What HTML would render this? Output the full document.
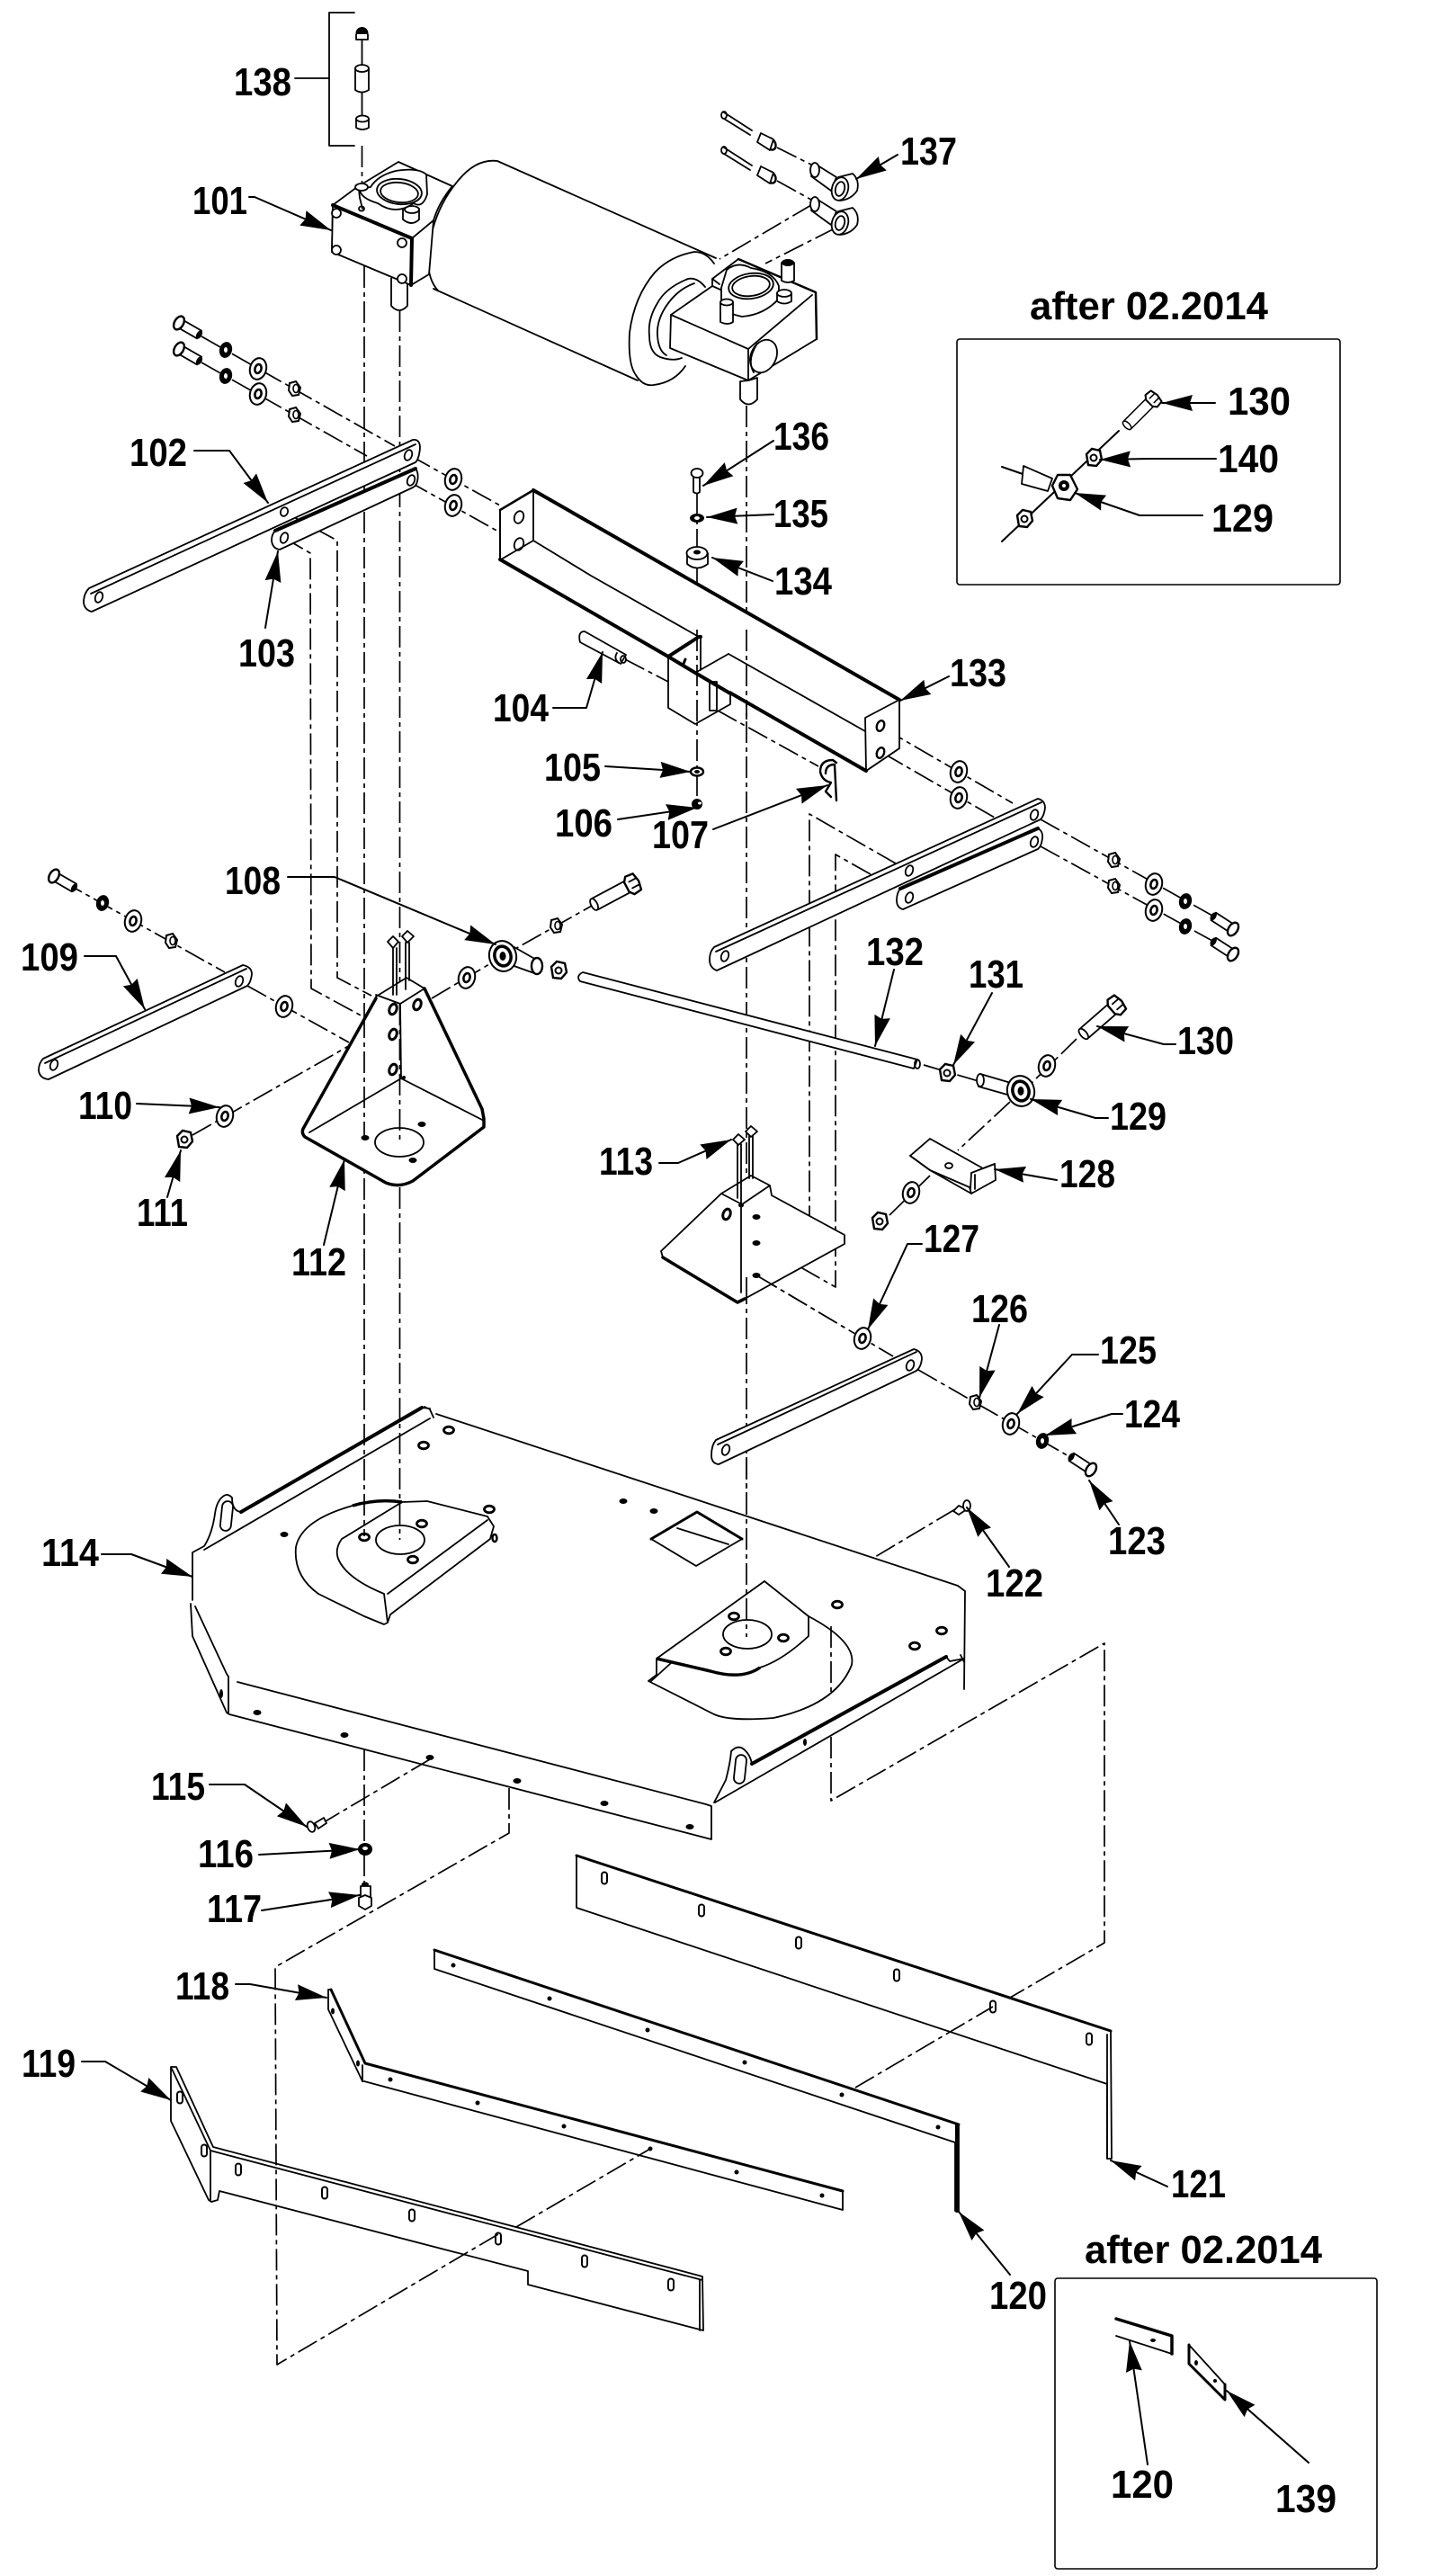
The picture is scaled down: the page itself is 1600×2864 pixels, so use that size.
<!DOCTYPE html>
<html><head><meta charset="utf-8"><title>Parts diagram</title>
<style>
html,body{margin:0;padding:0;background:#fff}
svg{display:block}
.n,.k,.d,.a{fill:none;stroke:#000;stroke-linejoin:round;stroke-linecap:round}
.n{stroke-width:1.8}
.f{fill:#fff;stroke:#000;stroke-width:1.8;stroke-linejoin:round}
.fk{fill:#fff;stroke:#000;stroke-width:2.4;stroke-linejoin:round}
.k{stroke-width:4}
.d{stroke-width:1.7;stroke-dasharray:24 5 5 5;stroke-linecap:butt}
.a{stroke-width:2;marker-end:url(#h)}
.b{fill:#000}
text{font-family:"Liberation Sans",sans-serif;font-weight:bold;font-size:44px;fill:#000}
</style></head><body>
<svg width="1600" height="2864" viewBox="0 0 1600 2864">
<defs>
<marker id="h" markerUnits="userSpaceOnUse" markerWidth="36" markerHeight="22" refX="34" refY="11" orient="auto"><path d="M0,2 L34,11 L0,20 L3,11 Z" fill="#000"/></marker>
<g id="w"><ellipse rx="9" ry="12" transform="rotate(15)" fill="#fff" stroke="#000" stroke-width="2"/><ellipse rx="3.5" ry="5" transform="rotate(15)" fill="#fff" stroke="#000" stroke-width="2.6"/></g>
<g id="l"><ellipse rx="7" ry="9" transform="rotate(15)" fill="#000"/><ellipse rx="2" ry="3" fill="#fff"/></g>
<g id="s"><path d="M-5,-6 L2,-8 L7,-1 L5,7 L-2,8 L-6,2 Z" fill="#fff" stroke="#000" stroke-width="2"/><ellipse cx="2" cy="0" rx="3" ry="4.5" fill="#fff" stroke="#000" stroke-width="1.6"/></g>
<g id="bo"><rect x="2" y="-5" width="24" height="10" class="f"/><ellipse cx="26" rx="3" ry="5" fill="#000"/><ellipse rx="5" ry="8" class="fk"/></g>
<g id="B"><rect x="2" y="-7" width="46" height="14" rx="2" class="f"/><ellipse cx="48" rx="3.5" ry="7" class="f"/><path d="M-6,-10 L3,-11 L7,-6 L7,6 L3,11 L-6,10 L-8,0 Z" class="fk"/><path d="M-6,-4 L2,-4 M-6,4 L2,4" class="n"/></g>
<g id="nut"><path d="M-8,-4 L-2,-10 L7,-8 L9,2 L3,9 L-6,8 Z" fill="#fff" stroke="#000" stroke-width="2.4"/><circle r="3.5" fill="#fff" stroke="#000" stroke-width="2"/></g>
<g id="jo"><ellipse rx="15" ry="17" transform="rotate(-15)" fill="#fff" stroke="#000" stroke-width="2"/><ellipse rx="9" ry="11" transform="rotate(-15)" fill="#fff" stroke="#000" stroke-width="3.5"/><ellipse rx="3.5" ry="5" fill="#000"/></g>
<g id="ho"><ellipse rx="4" ry="6" transform="rotate(20)" fill="#fff" stroke="#000" stroke-width="3"/></g>
<g id="hd"><ellipse rx="5.5" ry="3.8" fill="#fff" stroke="#000" stroke-width="2.8"/></g>
<g id="hb"><ellipse rx="4.5" ry="3" fill="#000"/></g>
<g id="sl"><rect x="-3" y="-6.5" width="6" height="13" rx="3" fill="#fff" stroke="#000" stroke-width="2"/></g>
</defs>

<!-- DECK 114 -->
<path class="f" d="M214,1726 L227,1719 L239,1683 L249,1663 L258,1665 L268,1681 L469,1565 L478,1567 L482,1576 L485,1572 L1065,1763 L1073,1769 L1072,1844 L1052,1842 L836,1961 L826,1944 L813,1947 L807,1979 L794,2004 L791,2008 L791,2045 L255,1906 L214,1819 L212,1783 L214,1779 Z" style="stroke:none"/>
<path class="n" d="M485,1572 L1065,1763 L1073,1769 L1072,1878 M1068,1840 L1072,1848"/>
<path class="k" d="M469,1565 L268,1681"/>
<path class="n" d="M472,1564 L478,1567 L482,1576 M469,1565 L478,1566 M268,1681 Q258,1680 258,1665 Q253,1660 249,1663 Q241,1668 239,1683 Q236,1705 227,1719 L214,1726 L214,1779 M227,1723 L478,1577"/>
<rect x="246" y="1669" width="12" height="33" rx="6" class="n" transform="rotate(6 252 1685)"/>
<path class="n" d="M212,1783 L214,1819 L252,1904 L255,1906 M217,1786 L252,1861 L254,1864 L254,1904 M264,1870 L785,2006 L791,2008 L791,2045 L255,1906"/>
<path class="k" d="M836,1961 L1052,1842"/>
<path class="n" d="M1052,1842 L1056,1847 L1072,1844 M795,2004 L1072,1844 M794,2004 Q804,1985 807,1979 Q812,1960 813,1947 Q820,1940 826,1944 Q834,1950 836,1961"/>
<rect x="817" y="1951" width="12" height="32" rx="6" class="n" transform="rotate(6 823 1967)"/>
<use href="#hb" x="286" y="1904"/><use href="#hb" x="383" y="1929"/><use href="#hb" x="478" y="1954"/><use href="#hb" x="575" y="1980"/><use href="#hb" x="672" y="2005"/><use href="#hb" x="767" y="2031"/>
<ellipse cx="246" cy="1883" rx="2" ry="5" class="b"/><ellipse cx="895" cy="1937" rx="2" ry="4" class="b"/>
<use href="#hd" x="499" y="1590"/><use href="#hd" x="471" y="1607"/><use href="#hb" x="316" y="1706"/><use href="#hb" x="693" y="1669"/><use href="#hb" x="727" y="1680"/><use href="#hd" x="544" y="1678"/><use href="#hd" x="931" y="1784"/><use href="#hd" x="1047" y="1813"/><use href="#hd" x="1017" y="1830"/>
<!-- left pad -->
<path class="n" d="M405,1797 Q370,1780 354,1772 Q326,1752 329,1720 Q335,1690 392,1674"/>
<path style="fill:none;stroke:#000;stroke-width:3.5" d="M392,1674 Q420,1666 447,1670"/>
<path class="n" d="M447,1670 L475,1669 L542,1686 L549,1697 L545,1711 L434,1795 L431,1804 L427,1806 L405,1797 M447,1670 L380,1711 Q372,1722 376,1733 Q385,1755 427,1772 L431,1804 M431,1772 L542,1690"/>
<ellipse cx="445" cy="1712" rx="27" ry="16" class="n"/>
<use href="#hd" x="469" y="1694"/><use href="#hd" x="405" y="1709"/><use href="#hd" x="459" y="1734"/><ellipse cx="550" cy="1710" rx="2.5" ry="4" class="fk"/>
<!-- right pad -->
<path class="n" d="M850,1758 L730,1844 L730,1862 L721,1869 L794,1906 Q812,1914 860,1910 Q930,1895 947,1851 Q952,1825 899,1797"/>
<path class="n" d="M850,1758 L899,1797 L899,1819 Q870,1846 845,1854 M746,1849 L724,1869"/>
<path style="fill:none;stroke:#000;stroke-width:3.5" d="M730,1844 L790,1858 Q825,1868 845,1854"/>
<ellipse cx="831" cy="1817" rx="27" ry="16" class="n"/>
<use href="#hd" x="816" y="1797"/><use href="#hd" x="871" y="1821"/><use href="#hd" x="807" y="1836"/>
<!-- notch -->
<path class="n" d="M775,1681 L825,1711 L774,1741 L724,1711 M753,1699 L810,1717"/>
<path class="k" style="stroke-width:3" d="M724,1711 L775,1681 L825,1711"/>

<!-- long center lines -->
<path class="d" d="M402.5,162 L402.5,216"/>
<path class="d" d="M405,296 L405,1708"/>
<path class="d" d="M444.5,345 L444.5,1712"/>
<path class="d" d="M830,451 L830,1820"/>
<path class="d" d="M775,549 L775,895"/>
<path class="d" d="M405,1945 L405,2095"/>
<path class="d" d="M924,1808 L924,1883 M924,1931 L924,2002 L1228,1827 L1228,2160 L1123,2221"/>
<path class="d" d="M1062,1678 L973,1731"/>
<path class="d" d="M478,1956 L360,2026"/>
<!-- bracket wires -->
<path class="d" d="M316,569 L375,601 L375,1087 L413,1107"/>
<path class="d" d="M316,598 L345,615 L346,1099 L403,1130"/>
<path class="d" d="M996,960 L900,905 L900,1386 L842,1353"/>
<path class="d" d="M968,972 L929,950 L929,1431 L843,1382"/>
<path class="d" d="M843,1419 L993,1508"/>
<!-- fasteners lines upper left -->
<path class="d" d="M224,374 L439,496 M224,403 L408,507 M457,507 L556,562 M454,535 L556,592"/>
<path class="d" d="M983,810 L1126,893 M983,838 L1106,909 M1157,911 L1348,1018 M1157,941 L1348,1046"/>
<path class="d" d="M70,980 L250,1081 M275,1096 L388,1159"/>
<path class="d" d="M214,1262 L449,1128 M480,1110 L571,1056 L658,1007"/>
<path class="d" d="M1027,1184 L1088,1202 M1197,1155 L1146,1205 M1123,1225 L1065,1279 M1034,1307 L988,1352"/>
<path class="d" d="M1021,1523 L1190,1620"/>
<path class="d" d="M864,164 L902,183 M864,201 L902,222 M902,228 L800,288 M928,254 L851,293"/>
<path class="d" d="M695,733 L743,758 M798,790 L910,852"/>
<path class="n" d="M402.5,45 L402.5,130"/>

<!-- 138 bracket -->
<path class="n" d="M394,14 L366,14 L366,162 L394,162 M328,87 L366,87"/>
<ellipse cx="402.5" cy="37" rx="7" ry="7" fill="#000"/><path class="f" d="M396,38 L396,44 L409,44 L409,38"/>
<path class="f" d="M395,76 L395,100 Q402,105 410,100 L410,76 Z"/><ellipse cx="402.5" cy="76" rx="7.5" ry="4" class="f"/>
<path class="f" d="M396,132 L396,142 Q403,146 410,142 L410,132 Z"/><ellipse cx="403" cy="132" rx="7" ry="3.5" class="f"/>

<!-- motor -->
<path class="f" d="M553,179 L800,288 L800,400 L712,422 L482,321 Q470,290 480,250 Q495,200 530,182 Q542,176 553,179 Z" style="stroke:none"/>
<path class="n" d="M553,179 L796,287 M482,321 L709,423 M553,179 Q530,176 510,200 Q480,235 476,285 Q475,310 487,323"/>
<!-- flange -->
<path class="f" d="M794,293 Q785,280 772,280 Q745,285 728,303 Q705,330 700,370 Q698,405 707,417 Q715,430 727,428 Q750,425 772,400 L800,340 Z" style="stroke:none"/>
<path class="n" d="M794,293 Q785,280 772,280 Q745,285 728,303 Q705,330 700,370 Q698,405 707,417 Q715,430 727,428 Q750,425 762,407"/>
<path class="n" d="M784,319 Q775,308 765,310 Q740,320 731,337 Q720,355 722,373 Q722,392 734,397 Q748,402 758,398"/>
<path class="n" d="M772,315 Q752,322 739,343 Q730,358 731,373 Q732,390 741,395"/>
<!-- right gearbox -->
<path class="f" d="M746,350 L792,318 L792,310 L821,288 L907,325 L908,377 L832,423 L745,387 Z"/>
<path class="n" d="M746,350 L832,388 L832,423 M832,388 L903,328 M792,310 L800,316 M792,318 L810,326"/>
<path class="k" style="stroke-width:2.5" d="M821,288 L907,325 L908,377"/>
<path class="f" d="M808,300 Q820,290 835,298 Q860,302 866,318 L866,332 Q850,350 825,352 Q806,348 802,340 L802,320 Z"/>
<ellipse cx="835" cy="318" rx="25" ry="14" transform="rotate(-8 835 318)" class="f"/>
<ellipse cx="835" cy="318" rx="21" ry="11" transform="rotate(-8 835 318)" class="n"/>
<path class="f" d="M801,336 L801,358 Q809,362 815,358 L815,336 Z"/><ellipse cx="808" cy="336" rx="7" ry="3.5" class="f"/>
<path class="f" d="M864,326 L864,335 Q872,340 880,335 L880,326 Z"/><ellipse cx="872" cy="326" rx="8" ry="4" class="f"/>
<path class="f" d="M869,292 L869,312 Q876,316 883,312 L883,292 Z"/><ellipse cx="876" cy="292" rx="7" ry="4" fill="#000"/>
<ellipse cx="849" cy="396" rx="14" ry="19" transform="rotate(25 849 396)" class="f"/>
<path class="n" d="M838,414 Q830,400 842,382"/>
<path class="f" d="M823,424 L823,444 Q832,455 842,444 L842,420 L832,423 Z"/>

<!-- left gearbox -->
<path class="f" d="M370,228 L397,208 L443,180 L503,207 Q488,225 482,245 L477,305 L457,317 L369,280 Z"/>
<path class="f" d="M435,309 L435,340 Q444,350 453,340 L453,315"/>
<path class="n" d="M458,265 L482,245"/>
<path class="f" d="M412,208 Q420,195 440,190 Q465,186 474,194 L475,216 Q470,232 460,226 Q440,240 420,226 Q400,220 400,210 Z"/>
<ellipse cx="444" cy="213" rx="25" ry="14" transform="rotate(6 444 213)" class="f"/>
<ellipse cx="444" cy="214" rx="21" ry="11" transform="rotate(6 444 214)" class="n"/>
<path class="n" d="M399,210 L400,220 L403,232"/>
<ellipse cx="402" cy="208" rx="7" ry="4" class="f"/>
<ellipse cx="402" cy="232" rx="3" ry="2.5" class="n"/>
<path class="f" d="M448,232 L448,244 Q458,252 466,244 L466,232 Z"/><ellipse cx="458" cy="233" rx="8" ry="4" class="f"/>
<path class="f" d="M370,228 L458,265 L457,317 L369,280 Z"/>
<path class="k" style="stroke-width:4" d="M370,228 L458,265 L457,317"/>
<circle cx="374" cy="237" r="5" class="f" stroke-width="2.4"/><circle cx="374" cy="278" r="5" class="f"/><circle cx="447" cy="270" r="5" class="f"/><circle cx="447" cy="310" r="5" class="f"/>

<!-- 137 pins -->
<g>
<path class="n" d="M805,125 L836,145 M805,132 L834,150 M805,164 L836,184 M805,171 L834,189"/>
<ellipse cx="805" cy="128" rx="3" ry="4" class="n"/><ellipse cx="805" cy="167" rx="3" ry="4" class="n"/>
<ellipse cx="857" cy="160" rx="5" ry="7" transform="rotate(-30 857 160)" class="fk"/><path class="f" d="M846,148 L860,155 L856,167 L842,158 Z"/>
<ellipse cx="857" cy="197" rx="5" ry="7" transform="rotate(-30 857 197)" class="fk"/><path class="f" d="M846,185 L860,192 L856,204 L842,195 Z"/>
<path class="f" d="M906,182 L930,197 L924,212 L902,196 Z"/><ellipse cx="906" cy="189" rx="5" ry="8" class="f"/>
<path class="f" d="M906,220 L930,235 L924,250 L902,234 Z"/><ellipse cx="906" cy="227" rx="5" ry="8" class="f"/>
<path class="f" d="M932,197 L948,193 Q956,200 953,212 Q946,222 934,223 Z"/><ellipse cx="934" cy="210" rx="9" ry="13" transform="rotate(15 934 210)" class="f"/><ellipse cx="934" cy="210" rx="5" ry="8" transform="rotate(15 934 210)" class="n"/>
<path class="f" d="M932,235 L948,231 Q956,238 953,250 Q946,260 934,261 Z"/><ellipse cx="934" cy="248" rx="9" ry="13" transform="rotate(15 934 248)" class="f"/><ellipse cx="934" cy="248" rx="5" ry="8" transform="rotate(15 934 248)" class="n"/>
</g>

<!-- bolts & washers upper-left -->
<use href="#bo" transform="translate(199,359) rotate(30)"/><use href="#bo" transform="translate(199,388) rotate(30)"/>
<use href="#l" x="251" y="389"/><use href="#l" x="251" y="418"/>
<use href="#w" x="287" y="410"/><use href="#w" x="287" y="438"/>
<use href="#s" x="327" y="432"/><use href="#s" x="327" y="461"/>
<use href="#w" x="504" y="533"/><use href="#w" x="504" y="562"/>

<!-- bars 102, 103 -->
<path class="f" d="M459,489 Q467,488 467,498 Q466,510 462,514 L102,680 Q94,678 93,670 Q93,660 99,654 Z"/>
<path class="n" d="M101,660 L462,494"/>
<ellipse cx="454" cy="506" rx="4" ry="6" transform="rotate(20 454 506)" class="n"/><ellipse cx="110" cy="664" rx="4" ry="6" transform="rotate(20 110 664)" class="n"/>
<path class="f" d="M462,521 Q466,526 464,535 Q463,540 459,542 L311,611 Q303,610 302,601 Q302,594 306,590 Z"/>
<path class="k" d="M306,590 L462,521"/>
<ellipse cx="457" cy="534" rx="4" ry="6" transform="rotate(20 457 534)" class="n"/><ellipse cx="316" cy="598" rx="4" ry="6" transform="rotate(20 316 598)" class="n"/>
<ellipse cx="316" cy="569" rx="4" ry="5" transform="rotate(20 316 569)" class="n"/>

<!-- tube 133 -->
<path class="f" d="M556,567 L593,545 L1000,778 L1000,832 L963,857 L773,748 L743,730 L556,622 Z"/>
<path class="n" d="M593,545 L593,601 L557,622 M593,601 L657,640 L777,708"/>
<path class="k" d="M556,622 L743,730 M593,545 L1000,778 M773,748 L963,857"/>
<path class="k" style="stroke-width:2.5" d="M556,567 L593,545"/>
<path class="n" d="M556,567 L556,622"/>
<ellipse cx="577" cy="575" rx="5" ry="7" transform="rotate(20 577 575)" class="n"/><ellipse cx="577" cy="605" rx="5" ry="7" transform="rotate(20 577 605)" class="n"/>
<path class="f" d="M962,798 L1000,778 L1000,832 L963,857 Z"/>
<ellipse cx="979" cy="807" rx="4" ry="6" transform="rotate(20 979 807)" class="fk"/><ellipse cx="979" cy="837" rx="4" ry="6" transform="rotate(20 979 837)" class="fk"/>
<path class="n" d="M810,727 L962,813"/>
<!-- center bracket -->
<path class="f" d="M743,732 L777,708 L779,745 L810,727 L812,772 L812,783 L773,805 L743,787 Z" style="stroke:none"/>
<path class="n" d="M743,732 L743,787 L773,805 L812,783 Q812,775 812,772 M773,748 L810,727 M779,708 L779,745"/>
<path class="k" d="M743,730 L777,708 L779,708 M743,730 L773,748 L812,771"/>
<rect x="789" y="758" width="8" height="32" class="n"/>
<path class="k" style="stroke-width:3" d="M760,738 L762,733"/>
<path class="d" d="M775,700 L775,805"/>
<path class="d" d="M830,700 L830,800"/>
<!-- pin 104 -->
<path class="f" d="M650,702 L696,728 L690,738 L645,714 Q642,702 650,702 Z"/>
<path class="n" d="M686,726 Q682,732 688,737"/>
<ellipse cx="693" cy="733" rx="3" ry="4" class="n"/>
<ellipse cx="775" cy="858" rx="7" ry="4.5" class="fk"/><ellipse cx="775" cy="858" rx="3" ry="2" class="b"/>
<circle cx="775" cy="894" r="6" fill="#000"/><ellipse cx="778" cy="893" rx="2" ry="1.5" fill="#fff"/>
<!-- clip 107 -->
<path class="n" style="stroke-width:2.4" d="M926,845 Q912,845 912,858 Q914,868 924,870 L918,880 L924,886 M918,860 Q918,850 928,850 L930,890 M926,845 L930,848"/>
<!-- top small part 136,135,134 -->
<path class="f" d="M771,530 L771,547 Q775,550 778,547 L778,530 Z"/><ellipse cx="775" cy="526" rx="6.5" ry="5" class="f"/>
<ellipse cx="775" cy="576" rx="8" ry="5" fill="#000"/><ellipse cx="775" cy="576" rx="3" ry="2" fill="#fff"/>
<path class="f" d="M764,615 L764,627 Q775,636 787,627 L787,615 Z"/><ellipse cx="775" cy="615" rx="11.5" ry="7" class="f"/><ellipse cx="775" cy="614" rx="4" ry="2.5" class="b"/>

<!-- right bars -->
<path class="f" d="M1154,888 Q1162,890 1162,898 Q1161,907 1157,911 L797,1079 Q789,1076 789,1067 Q789,1058 794,1053 Z"/>
<path class="n" d="M796,1058 L1158,892"/>
<ellipse cx="1150" cy="906" rx="4" ry="6" transform="rotate(20 1150 906)" class="n"/><ellipse cx="806" cy="1063" rx="4" ry="6" transform="rotate(20 806 1063)" class="n"/><ellipse cx="1011" cy="968" rx="4" ry="6" transform="rotate(20 1011 968)" class="n"/>
<path class="f" d="M1154,921 Q1160,924 1159,932 Q1158,941 1154,944 L1004,1011 Q997,1009 997,1001 Q997,993 1001,988 Z"/>
<path class="k" d="M1001,988 L1154,921"/>
<ellipse cx="1150" cy="936" rx="4" ry="6" transform="rotate(20 1150 936)" class="n"/><ellipse cx="1011" cy="998" rx="4" ry="6" transform="rotate(20 1011 998)" class="n"/>
<use href="#w" x="1066" y="858"/><use href="#w" x="1066" y="887"/>
<use href="#s" x="1238" y="956"/><use href="#s" x="1238" y="985"/>
<use href="#w" x="1283" y="983"/><use href="#w" x="1283" y="1012"/>
<use href="#l" x="1318" y="1002"/><use href="#l" x="1318" y="1030"/>
<use href="#bo" transform="translate(1371,1033) rotate(213)"/><use href="#bo" transform="translate(1371,1061) rotate(213)"/>

<!-- left group 109 -->
<use href="#bo" transform="translate(60,974) rotate(30)"/>
<use href="#l" x="114" y="1004"/><use href="#w" x="148" y="1024"/><use href="#s" x="190" y="1046"/>
<path class="f" d="M270,1073 Q280,1075 280,1083 Q279,1092 275,1096 L54,1200 Q44,1199 43,1190 Q43,1182 48,1177 Z"/>
<path class="n" d="M50,1182 L274,1077"/>
<ellipse cx="266" cy="1091" rx="4" ry="6" transform="rotate(20 266 1091)" class="n"/><ellipse cx="60" cy="1184" rx="4" ry="6" transform="rotate(20 60 1184)" class="n"/>
<use href="#w" x="316" y="1119"/><use href="#w" x="250" y="1241"/><use href="#nut" x="205" y="1267"/>

<!-- bracket 112 -->
<path class="f" d="M418,1106 L452,1087 L472,1099 L536,1233 L538,1253 L459,1313 Q444,1320 429,1315 L339,1264 Q335,1258 337,1255 Z" style="stroke:none"/>
<path class="n" d="M418,1108 L452,1087 L472,1099 L445,1116 L418,1106 M445,1116 L446,1199 L344,1259 M446,1199 L538,1246"/>
<path class="n" style="stroke-width:3.5" d="M418,1110 L337,1255 Q335,1260 339,1264 L429,1315 Q444,1321 459,1313 L538,1253 L538,1244 L536,1233 L472,1099"/>
<ellipse cx="444" cy="1270" rx="27" ry="16" class="n"/>
<use href="#hb" x="406" y="1265"/><use href="#hb" x="469" y="1250"/><use href="#hb" x="459" y="1290"/>
<use href="#ho" x="437" y="1122"/><use href="#ho" x="437" y="1150"/><use href="#ho" x="437" y="1189"/><use href="#ho" x="464" y="1117"/>
<path class="n" d="M437,1054 L437,1106 M441,1054 L441,1106 M451,1048 L451,1100 M455,1048 L455,1090"/>
<path class="f" d="M431,1047 L437,1041 L443,1047 L437,1054 Z"/><path class="f" d="M447,1041 L453,1035 L460,1041 L453,1048 Z"/>
<path class="d" d="M405,1130 L405,1265 M444.5,1116 L444.5,1270"/>
<circle cx="449" cy="1198" r="2" class="b"/>

<!-- rod and joints -->
<path class="f" d="M648,1081 L1020,1178 L1016,1188 L645,1091 Q640,1085 648,1081 Z"/>
<ellipse cx="1020" cy="1183" rx="3" ry="5" class="n"/>
<path class="f" d="M570,1052 L598,1068 L594,1082 L566,1072 Z"/>
<ellipse cx="597" cy="1074" rx="6" ry="9" class="fk"/>
<use href="#nut" x="621" y="1079"/>
<use href="#jo" x="559" y="1063"/>
<use href="#w" x="519" y="1087"/><use href="#s" x="618" y="1029"/>
<use href="#B" transform="translate(703,983) rotate(152)"/>
<use href="#nut" x="1053" y="1193"/>
<path class="f" d="M1090,1194 L1124,1204 L1120,1217 L1088,1208 Z"/><ellipse cx="1090" cy="1201" rx="4" ry="7" class="f"/>
<use href="#jo" x="1135" y="1213"/>
<use href="#w" x="1164" y="1185"/>
<use href="#B" transform="translate(1241,1118) rotate(139)"/>
<!-- part 128 -->
<path class="f" d="M1012,1285 L1034,1266 L1093,1299 L1106,1294 L1107,1312 L1080,1327 L1034,1301 Z"/>
<path class="n" d="M1012,1285 L1034,1301 L1078,1320 L1080,1327 M1080,1304 L1106,1294 M1080,1304 L1079,1322 M1084,1306 L1084,1322"/>
<ellipse cx="1055" cy="1296" rx="4" ry="3" class="n"/>
<use href="#w" x="1013" y="1326"/><use href="#nut" x="978" y="1358"/>

<!-- bracket 113 -->
<path class="f" d="M802,1327 L835,1307 L856,1318 L858,1329 L939,1373 L939,1383 L828,1444 L820,1448 L737,1398 L735,1391 Z" style="stroke:none"/>
<path class="n" d="M802,1327 L835,1307 L856,1318 L825,1339 L802,1327 L735,1391 L737,1398 M856,1318 L858,1329 L939,1373 L939,1383 L828,1444 M824,1339 L824,1437"/>
<path class="k" style="stroke-width:3.5" d="M737,1398 L820,1448 L828,1444"/>
<use href="#ho" x="808" y="1350"/><use href="#hb" x="841" y="1353"/><use href="#hb" x="841" y="1382"/><use href="#hb" x="841" y="1418"/>
<path class="n" d="M820,1272 L820,1332 M824,1272 L824,1338 M833,1263 L833,1310 M837,1263 L837,1310"/>
<path class="f" d="M815,1267 L821,1261 L828,1267 L821,1273 Z"/><path class="f" d="M829,1258 L835,1252 L842,1258 L835,1264 Z"/>
<path class="d" d="M843,1419 L939,1476"/><path class="d" d="M830,1420 L830,1450"/>
<ellipse cx="824" cy="1340" rx="3" ry="2.5" class="b"/>

<!-- lower bar -->
<use href="#w" x="959" y="1488"/>
<path class="f" d="M1016,1500 Q1025,1502 1025,1511 Q1024,1520 1019,1524 L799,1628 Q791,1627 791,1618 Q791,1607 796,1601 Z"/>
<path class="n" d="M798,1606 L1019,1503"/>
<ellipse cx="1012" cy="1518" rx="4" ry="6" transform="rotate(20 1012 1518)" class="n"/><ellipse cx="807" cy="1612" rx="4" ry="6" transform="rotate(20 807 1612)" class="n"/>
<use href="#s" x="1084" y="1559"/><use href="#w" x="1124" y="1583"/><use href="#l" x="1159" y="1602"/>
<use href="#bo" transform="translate(1213,1634) rotate(213)"/>
<path class="d" d="M830,1620 L830,1660"/>

<!-- bolts near deck -->
<path class="f" d="M1066,1674 L1060,1680 L1066,1684 L1075,1678 Z"/>
<ellipse cx="1075" cy="1674" rx="4" ry="6" class="f"/>
<path class="f" d="M350,2027 L360,2021 L363,2027 L354,2033 Z"/><ellipse cx="346" cy="2031" rx="4" ry="6" transform="rotate(-20 346 2031)" class="f"/>
<ellipse cx="406" cy="2056" rx="8" ry="7" fill="#000"/><ellipse cx="406" cy="2055" rx="3" ry="2" fill="#fff"/>
<path class="f" d="M401,2097 L401,2112 L412,2112 L412,2097 Z"/><ellipse cx="406" cy="2095" rx="4" ry="2.5" fill="#000"/>
<path class="f" d="M399,2110 L399,2119 L406,2123 L413,2119 L413,2110 L406,2107 Z"/>

<!-- 121 -->
<path class="f" d="M641,2063 L1235,2258 L1236,2400 L1231,2400 L1231,2317 L641,2121 Z"/>
<path class="k" style="stroke-width:3" d="M641,2063 L1235,2258"/>
<path class="n" d="M1231,2262 L1231,2400"/>
<use href="#sl" x="672" y="2088"/><use href="#sl" x="780" y="2124"/><use href="#sl" x="888" y="2160"/><use href="#sl" x="997" y="2196"/><use href="#sl" x="1104" y="2231"/><use href="#sl" x="1211" y="2267"/>

<!-- 120 -->
<path class="f" d="M483,2168 L1066,2362 L1066,2458 L1062,2458 L1062,2382 L483,2189 Z"/>
<path class="k" style="stroke-width:3" d="M483,2168 L1066,2362"/>
<path class="k" style="stroke-width:4" d="M1064,2362 L1064,2458"/>
<circle cx="504" cy="2185" r="2.5" class="b"/><circle cx="611" cy="2222" r="2.5" class="b"/><circle cx="720" cy="2257" r="2.5" class="b"/><circle cx="828" cy="2293" r="2.5" class="b"/><circle cx="936" cy="2329" r="2.5" class="b"/><circle cx="1043" cy="2365" r="2.5" class="b"/>
<path class="d" d="M951,2321 L1104,2231"/>

<!-- 118 -->
<path class="f" d="M365,2212 L368,2212 L406,2294 L937,2436 L937,2457 L405,2314 L403,2314 L365,2234 Z"/>
<path class="k" style="stroke-width:3" d="M368,2212 L406,2294 L937,2436"/>
<path class="n" d="M403,2296 L403,2314"/>
<ellipse cx="370" cy="2236" rx="2" ry="3.5" class="b"/><ellipse cx="398" cy="2294" rx="2" ry="3.5" class="b"/>
<circle cx="434" cy="2312" r="2.5" class="b"/><circle cx="531" cy="2338" r="2.5" class="b"/><circle cx="627" cy="2364" r="2.5" class="b"/><circle cx="723" cy="2389" r="2.5" class="b"/><circle cx="819" cy="2415" r="2.5" class="b"/><circle cx="914" cy="2441" r="2.5" class="b"/>

<!-- 119 -->
<path class="f" d="M190,2298 L196,2298 L237,2387 L781,2531 L782,2591 L587,2540 L587,2525 L244,2436 L242,2446 L235,2448 L232,2446 L190,2358 Z"/>
<path class="n" d="M191,2300 L234,2391 L234,2446 M234,2391 L781,2535 M778,2535 L778,2591"/>
<use href="#sl" x="200" y="2332"/><use href="#sl" x="227" y="2391"/>
<use href="#sl" x="265" y="2412"/><use href="#sl" x="361" y="2438"/><use href="#sl" x="458" y="2463"/><use href="#sl" x="554" y="2489"/><use href="#sl" x="650" y="2514"/><use href="#sl" x="746" y="2540"/>
<!-- dash lines crossing the lower parts -->
<path class="d" d="M566,1988 L566,2038 L306,2187 L308,2629 L554,2484"/>
<path class="d" d="M574,2476 L723,2389"/>

<!-- inset boxes -->
<rect x="1064" y="377" width="426" height="273" rx="3" fill="none" stroke="#000" stroke-width="1.6"/>
<rect x="1173" y="2533" width="358" height="323" rx="3" fill="none" stroke="#000" stroke-width="1.6"/>
<path class="n" d="M1244,479 L1114,602" style="stroke-width:2"/>
<use href="#B" transform="translate(1282,444) rotate(135) scale(.85)"/>
<use href="#nut" x="1216" y="509"/>
<path class="n" style="stroke-width:2" d="M1114,519 L1140,528"/>
<path class="f" d="M1138,518 L1170,532 L1165,546 L1136,538 Z"/>
<path d="M1176,528 L1190,528 L1198,544 L1190,556 L1176,554 L1170,540 Z" class="fk"/><circle cx="1183" cy="540" r="6" fill="#000"/><circle cx="1183" cy="540" r="2" fill="#fff"/>
<use href="#nut" x="1139" y="577"/>
<path class="n" style="stroke-width:1.8" d="M1241,2597 L1303,2617"/>
<path class="k" style="stroke-width:3.5" d="M1241,2578 L1303,2597 L1303,2617"/>
<ellipse cx="1282" cy="2602" rx="3" ry="2" class="b"/>
<path class="f" d="M1322,2607 L1362,2651 L1362,2668 L1322,2628 Z"/>
<path class="k" style="stroke-width:3" d="M1322,2607 L1322,2628 L1362,2668 L1362,2651"/>
<ellipse cx="1330" cy="2627" rx="2" ry="3" class="b"/><ellipse cx="1351" cy="2647" rx="2" ry="2" class="b"/>

<!-- callout leaders -->
<path class="a" d="M277,219 L283,219 L368,256"/>
<path class="a" d="M216,501 L255,501 L298,559"/>
<path class="a" d="M295,698 L309,613"/>
<path class="a" d="M615,787 L652,787 L670,725"/>
<path class="a" d="M673,852 L768,858"/>
<path class="a" d="M687,911 L775,898"/>
<path class="a" d="M793,922 L920,873"/>
<path class="a" d="M320,975 L372,975 L551,1050"/>
<path class="a" d="M94,1063 L129,1063 L161,1122"/>
<path class="a" d="M152,1227 L244,1231"/>
<path class="a" d="M186,1331 L201,1279"/>
<path class="a" d="M360,1384 L383,1289"/>
<path class="a" d="M733,1293 L754,1293 L813,1267"/>
<path class="a" d="M113,1728 L146,1728 L214,1753"/>
<path class="a" d="M233,1984 L272,1984 L341,2031"/>
<path class="a" d="M288,2062 L400,2056"/>
<path class="a" d="M291,2124 L400,2107"/>
<path class="a" d="M262,2206 L278,2206 L363,2221"/>
<path class="a" d="M91,2292 L117,2292 L190,2335"/>
<path class="a" d="M1123,2529 L1066,2459"/>
<path class="a" d="M1298,2431 L1235,2402"/>
<path class="a" d="M1122,1742 L1075,1676"/>
<path class="a" d="M1244,1695 L1211,1646"/>
<path class="a" d="M1248,1572 L1236,1572 L1162,1596"/>
<path class="a" d="M1221,1506 L1192,1506 L1131,1572"/>
<path class="a" d="M1111,1473 L1089,1554"/>
<path class="a" d="M1025,1383 L1009,1383 L965,1478"/>
<path class="a" d="M1175,1312 L1106,1300"/>
<path class="a" d="M1232,1243 L1218,1243 L1146,1222"/>
<path class="a" d="M1307,1161 L1294,1161 L1220,1141"/>
<path class="a" d="M1103,1104 L1060,1184"/>
<path class="a" d="M994,1078 L973,1163"/>
<path class="a" d="M1055,752 L1001,779"/>
<path class="a" d="M859,646 L792,620"/>
<path class="a" d="M860,572 L786,575"/>
<path class="a" d="M860,490 L782,540"/>
<path class="a" d="M998,172 L952,199"/>
<path class="a" d="M1351,448 L1292,448"/>
<path class="a" d="M1352,510 L1280,510 L1223,511"/>
<path class="a" d="M1337,573 L1267,573 L1195,548"/>
<path class="a" d="M1276,2740 L1256,2603"/>
<path class="a" d="M1455,2738 L1364,2658"/>

<!-- labels -->
<text x="260" y="106" textLength="64" lengthAdjust="spacingAndGlyphs">138</text>
<text x="214" y="238" textLength="61" lengthAdjust="spacingAndGlyphs">101</text>
<text x="144" y="518" textLength="64" lengthAdjust="spacingAndGlyphs">102</text>
<text x="265" y="741" textLength="63" lengthAdjust="spacingAndGlyphs">103</text>
<text x="548" y="802" textLength="62" lengthAdjust="spacingAndGlyphs">104</text>
<text x="605" y="868" textLength="63" lengthAdjust="spacingAndGlyphs">105</text>
<text x="617" y="930" textLength="64" lengthAdjust="spacingAndGlyphs">106</text>
<text x="725" y="943" textLength="63" lengthAdjust="spacingAndGlyphs">107</text>
<text x="250" y="994" textLength="62" lengthAdjust="spacingAndGlyphs">108</text>
<text x="23" y="1079" textLength="64" lengthAdjust="spacingAndGlyphs">109</text>
<text x="87" y="1244" textLength="60" lengthAdjust="spacingAndGlyphs">110</text>
<text x="152" y="1363" textLength="57" lengthAdjust="spacingAndGlyphs">111</text>
<text x="324" y="1418" textLength="61" lengthAdjust="spacingAndGlyphs">112</text>
<text x="666" y="1306" textLength="60" lengthAdjust="spacingAndGlyphs">113</text>
<text x="46" y="1741" textLength="64" lengthAdjust="spacingAndGlyphs">114</text>
<text x="168" y="2001" textLength="60" lengthAdjust="spacingAndGlyphs">115</text>
<text x="220" y="2076" textLength="62" lengthAdjust="spacingAndGlyphs">116</text>
<text x="230" y="2137" textLength="61" lengthAdjust="spacingAndGlyphs">117</text>
<text x="195" y="2223" textLength="60" lengthAdjust="spacingAndGlyphs">118</text>
<text x="24" y="2309" textLength="60" lengthAdjust="spacingAndGlyphs">119</text>
<text x="1100" y="2567" textLength="64" lengthAdjust="spacingAndGlyphs">120</text>
<text x="1302" y="2443" textLength="61" lengthAdjust="spacingAndGlyphs">121</text>
<text x="1096" y="1775" textLength="64" lengthAdjust="spacingAndGlyphs">122</text>
<text x="1232" y="1728" textLength="64" lengthAdjust="spacingAndGlyphs">123</text>
<text x="1250" y="1587" textLength="62" lengthAdjust="spacingAndGlyphs">124</text>
<text x="1223" y="1516" textLength="63" lengthAdjust="spacingAndGlyphs">125</text>
<text x="1080" y="1470" textLength="63" lengthAdjust="spacingAndGlyphs">126</text>
<text x="1027" y="1392" textLength="62" lengthAdjust="spacingAndGlyphs">127</text>
<text x="1178" y="1320" textLength="62" lengthAdjust="spacingAndGlyphs">128</text>
<text x="1234" y="1256" textLength="63" lengthAdjust="spacingAndGlyphs">129</text>
<text x="1309" y="1172" textLength="63" lengthAdjust="spacingAndGlyphs">130</text>
<text x="1077" y="1098" textLength="61" lengthAdjust="spacingAndGlyphs">131</text>
<text x="963" y="1073" textLength="64" lengthAdjust="spacingAndGlyphs">132</text>
<text x="1056" y="763" textLength="63" lengthAdjust="spacingAndGlyphs">133</text>
<text x="861" y="661" textLength="64" lengthAdjust="spacingAndGlyphs">134</text>
<text x="860" y="586" textLength="61" lengthAdjust="spacingAndGlyphs">135</text>
<text x="860" y="500" textLength="62" lengthAdjust="spacingAndGlyphs">136</text>
<text x="1001" y="183" textLength="63" lengthAdjust="spacingAndGlyphs">137</text>
<text x="1145" y="355" textLength="265" lengthAdjust="spacingAndGlyphs">after 02.2014</text>
<text x="1365" y="461" textLength="70" lengthAdjust="spacingAndGlyphs">130</text>
<text x="1354" y="525" textLength="68" lengthAdjust="spacingAndGlyphs">140</text>
<text x="1347" y="591" textLength="69" lengthAdjust="spacingAndGlyphs">129</text>
<text x="1206" y="2516" textLength="264" lengthAdjust="spacingAndGlyphs">after 02.2014</text>
<text x="1235" y="2777" textLength="70" lengthAdjust="spacingAndGlyphs">120</text>
<text x="1418" y="2793" textLength="68" lengthAdjust="spacingAndGlyphs">139</text>
</svg>
</body></html>
